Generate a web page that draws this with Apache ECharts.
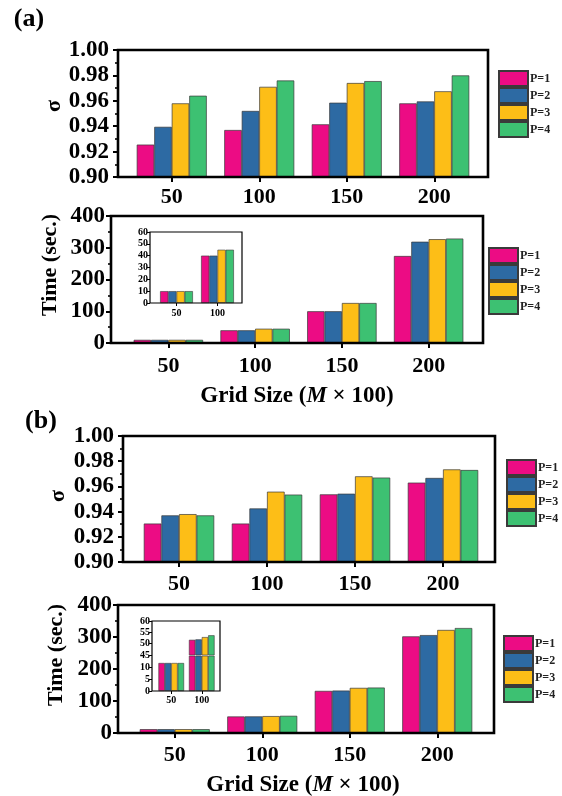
<!DOCTYPE html>
<html><head><meta charset="utf-8">
<script src="https://cdn.jsdelivr.net/npm/echarts@6/dist/echarts.min.js"></script>
<style>html,body{margin:0;padding:0;background:#fff}#c{width:562px;height:796px}</style>
</head><body><div id="c"></div>
<script>
// ---------------- data ----------------
const categories = ['50', '100', '150', '200'];
const seriesNames = ['P=1', 'P=2', 'P=3', 'P=4'];
const sigmaTickLabelDigits = 2;
// rows = P=1..P=4, columns = categories
const sigmaA = [
  [0.9255, 0.937, 0.9415, 0.958],
  [0.9395, 0.952, 0.9585, 0.9595],
  [0.958, 0.971, 0.974, 0.9675],
  [0.964, 0.976, 0.9755, 0.980]
];
const timeA = [
  [10, 40, 100, 274],
  [10, 40, 100, 319],
  [10, 45, 126, 327],
  [10, 45, 126, 329]
];
const sigmaB = [
  [0.9305, 0.9305, 0.9537, 0.963],
  [0.937, 0.9425, 0.9542, 0.9667],
  [0.938, 0.9558, 0.968, 0.9735],
  [0.937, 0.9535, 0.967, 0.973]
];
const timeB = [
  [12, 51.7, 131.6, 302],
  [12, 51.9, 132.6, 306],
  [12, 52.9, 141, 322],
  [12, 53.7, 142, 328]
];
const insetCategoryCount = 2;

// ---------------- styling / layout ----------------
const colors = ['#EC0C84', '#2D6AA3', '#FDBE17', '#3DC172'];
const FONT = '"Liberation Serif", "Times New Roman", serif';
const grids = [], xAxes = [], yAxes = [], series = [], graphics = [], legends = [];

function frame(L, T, R, B, w) {
  graphics.push({type: 'rect', z: 100, silent: true,
    shape: {x: L, y: T, width: R - L, height: B - T},
    style: {fill: 'none', stroke: '#000', lineWidth: w}});
}
function addPanel(p) {
  const gi = grids.length;
  grids.push({left: p.gl, top: p.gt, width: p.gw, height: p.gh, containLabel: false});
  xAxes.push({type: 'category', gridIndex: gi, data: p.cats,
    axisLine: {show: false},
    axisTick: {show: p.showX !== false, alignWithLabel: true, length: p.xtl, lineStyle: {color: '#000', width: p.tw}},
    axisLabel: {show: p.showX !== false, margin: p.xm, fontFamily: FONT, fontWeight: 'bold', fontSize: p.xfs, color: '#000'},
    splitLine: {show: false}});
  yAxes.push({type: 'value', gridIndex: gi, min: p.min, max: p.max, interval: p.interval, offset: p.off,
    axisLine: {show: false},
    axisTick: {show: true, length: p.ytl, lineStyle: {color: '#000', width: p.tw}},
    minorTick: {show: !!p.minor, splitNumber: 2, length: p.ytl * 0.6, lineStyle: {color: '#000', width: p.tw * 0.8}},
    splitLine: {show: false}, minorSplitLine: {show: false},
    axisLabel: {margin: p.ym, fontFamily: FONT, fontWeight: 'bold', fontSize: p.yfs, color: '#000',
      formatter: p.fmt, showMaxLabel: p.showMax !== false, showMinLabel: true}});
  p.data.forEach((vals, i) => series.push({type: 'bar', name: seriesNames[i], xAxisIndex: gi, yAxisIndex: gi,
    data: vals, barGap: '0%', barCategoryGap: p.gap, clip: true, silent: true,
    itemStyle: {color: colors[i], borderColor: '#3a3a3a', borderWidth: p.bw}}));
}
function legendAt(left, top) {
  legends.push({orient: 'vertical', left: left, top: top, itemWidth: 29, itemHeight: 15, itemGap: 0,
    padding: 0, icon: 'rect', selectedMode: false, data: seriesNames,
    textStyle: {fontFamily: FONT, fontWeight: 'bold', fontSize: 12, color: '#222', padding: [0, 0, 0, -3]}});
}
function label(text, x, y, size, rot) {
  graphics.push({type: 'text', x: x, y: y, rotation: rot || 0, silent: true, z: 100,
    style: {text: text, textAlign: 'center', textVerticalAlign: 'middle', fill: '#000',
      font: 'bold ' + size + 'px ' + FONT}});
}
const sigFmt = v => v.toFixed(sigmaTickLabelDigits);
const main = {xtl: 5, ytl: 5, tw: 2, xfs: 22, yfs: 23, gap: '20%', bw: 0.7, minor: true, cats: categories};

// (a) sigma
addPanel(Object.assign({}, main, {gl: 128, gt: 50, gw: 350, gh: 127, off: 10, ym: 9, xm: 9,
  min: 0.9, max: 1.0, interval: 0.02, fmt: sigFmt, data: sigmaA}));
frame(118, 50, 488, 177, 2.6);
legendAt(498, 70);
// (a) time
addPanel(Object.assign({}, main, {gl: 125, gt: 216, gw: 347, gh: 127, off: 14, ym: 6, xm: 12,
  min: 0, max: 400, interval: 100, data: timeA}));
frame(111, 216, 483, 343, 2.6);
legendAt(488, 247);
// (a) inset
const insetBase = {xtl: 3, ytl: 3, tw: 1, xfs: 10, yfs: 10, gap: '20%', bw: 0.6, minor: false,
  cats: categories.slice(0, insetCategoryCount)};
addPanel(Object.assign({}, insetBase, {gl: 156, gt: 232, gw: 82, gh: 71, off: 6, ym: 2, xm: 5,
  min: 0, max: 60, interval: 10, data: timeA.map(r => r.slice(0, insetCategoryCount))}));
frame(150, 232, 242, 303, 1.2);

// (b) sigma
addPanel(Object.assign({}, main, {gl: 135, gt: 436, gw: 352, gh: 126, off: 12, ym: 9, xm: 11,
  min: 0.9, max: 1.0, interval: 0.02, fmt: sigFmt, data: sigmaB}));
frame(123, 436, 495, 562, 2.6);
legendAt(506, 459);
// (b) time
addPanel(Object.assign({}, main, {gl: 131, gt: 605, gw: 350, gh: 128, off: 13, ym: 6, xm: 11,
  min: 0, max: 400, interval: 100, data: timeB}));
frame(118, 605, 494, 733, 2.6);
legendAt(503, 635);
// (b) inset with broken axis: upper segment 45-60, lower segment 0-15
const insetB = timeB.map(r => r.slice(0, insetCategoryCount));
addPanel(Object.assign({}, insetBase, {gl: 156, gt: 621, gw: 61, gh: 34, off: 4, ym: 2, xm: 4, gap: '16%',
  showX: false, min: 45, max: 60, interval: 5, data: insetB}));
addPanel(Object.assign({}, insetBase, {gl: 156, gt: 656, gw: 61, gh: 35, off: 4, ym: 2, xm: 4, gap: '16%',
  min: 0, max: 15, interval: 5, showMax: false, data: insetB}));
frame(152, 621, 220, 691, 1.2);

// titles
label('(a)', 29, 19, 26, 0);
label('(b)', 41, 421, 26, 0);
label('σ', 54, 106, 22, Math.PI / 2);
label('σ', 58, 496, 22, Math.PI / 2);
label('Time (sec.)', 50, 265, 22, Math.PI / 2);
label('Time (sec.)', 56, 655, 22, Math.PI / 2);
function gridSize(x, y) {
  graphics.push({type: 'text', x: x, y: y, silent: true, z: 100,
    style: {text: '{n|Grid Size (}{m|M}{n| × 100)}', textAlign: 'center', textVerticalAlign: 'middle',
      rich: {n: {font: 'bold 23px ' + FONT, fill: '#000'}, m: {font: 'italic bold 23px ' + FONT, fill: '#000'}}}});
}
gridSize(297, 396);
gridSize(303, 785);

const chart = echarts.init(document.getElementById('c'), null, {renderer: 'canvas'});
chart.setOption({
  animation: false,
  backgroundColor: '#fff',
  grid: grids, xAxis: xAxes, yAxis: yAxes, series: series,
  legend: legends, graphic: graphics
});
</script></body></html>
